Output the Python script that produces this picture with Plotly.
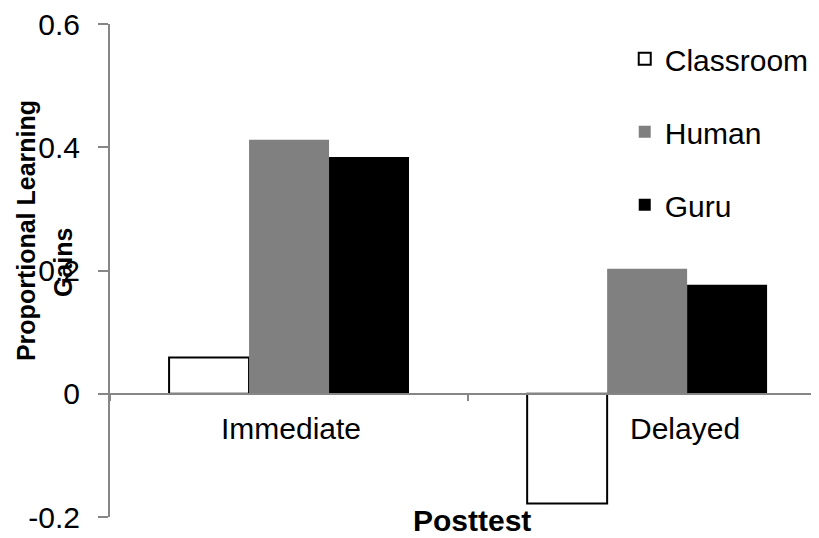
import plotly.graph_objects as go

categories = ["Immediate", "Delayed"]
classroom = [0.059, -0.178]
human = [0.412, 0.203]
guru = [0.384, 0.177]
y_ticks = [-0.2, 0, 0.2, 0.4, 0.6]
y_tick_text = ["-0.2", "0", "0.2", "0.4", "0.6"]
x_title = "Posttest"
y_title_lines = ["Proportional Learning", "Gains"]

FONT = "Arial, 'Liberation Sans', sans-serif"
AX = "#868686"

fig = go.Figure()
fig.add_bar(x=categories, y=classroom, name="Classroom",
            marker=dict(color="white", line=dict(color="black", width=2)), legendgroup="a")
fig.add_bar(x=categories, y=human, name="Human",
            marker=dict(color="#808080", line=dict(width=0)), legendgroup="b")
fig.add_bar(x=categories, y=guru, name="Guru",
            marker=dict(color="black", line=dict(width=0)), legendgroup="c")

fig.update_layout(
    width=811, height=530,
    margin=dict(l=102, r=0, t=16, b=21),
    paper_bgcolor="white", plot_bgcolor="white",
    barmode="group", bargap=0.33, bargroupgap=0,
    font=dict(family=FONT, size=30, color="black"),
    showlegend=True,
    legend=dict(x=0.726, y=0.982, xanchor="left", yanchor="top",
                tracegroupgap=31, traceorder="grouped",
                font=dict(size=30), bgcolor="rgba(0,0,0,0)"),
    xaxis=dict(anchor="free", position=0.25, range=[-0.5, 1.48],
               showline=True, linecolor=AX, linewidth=2,
               ticks="outside", tickson="boundaries", ticklen=6,
               tickcolor=AX, tickwidth=2, showticklabels=False,
               showgrid=False, zeroline=False),
    yaxis=dict(range=[-0.2, 0.6], tickvals=y_ticks, ticktext=y_tick_text,
               showline=True, linecolor=AX, linewidth=2,
               ticks="outside", ticklen=10, tickcolor=AX, tickwidth=2,
               ticklabelstandoff=12, ticklabeloverflow="allow",
               showgrid=False, zeroline=False),
)

label_shift = {"Immediate": 2, "Delayed": 38}
for c in categories:
    fig.add_annotation(x=c, y=0, xref="x", yref="y", text=c, showarrow=False,
                       yanchor="top", yshift=-16, xshift=label_shift[c],
                       font=dict(size=30))

fig.add_annotation(x=0.51, y=0, xref="paper", yref="paper", text="<b>%s</b>" % x_title,
                   showarrow=False, yanchor="middle", yshift=-3, font=dict(size=30))

fig.add_annotation(x=0, y=0.58, xref="paper", yref="paper",
                   text="<b>%s</b>" % y_title_lines[0], textangle=-90,
                   showarrow=False, xanchor="center", xshift=-84, font=dict(size=25))
fig.add_annotation(x=0, y=0.515, xref="paper", yref="paper",
                   text="<b>%s</b>" % y_title_lines[1], textangle=-90,
                   showarrow=False, xanchor="center", xshift=-47, font=dict(size=25))

fig.write_html("out.html")
